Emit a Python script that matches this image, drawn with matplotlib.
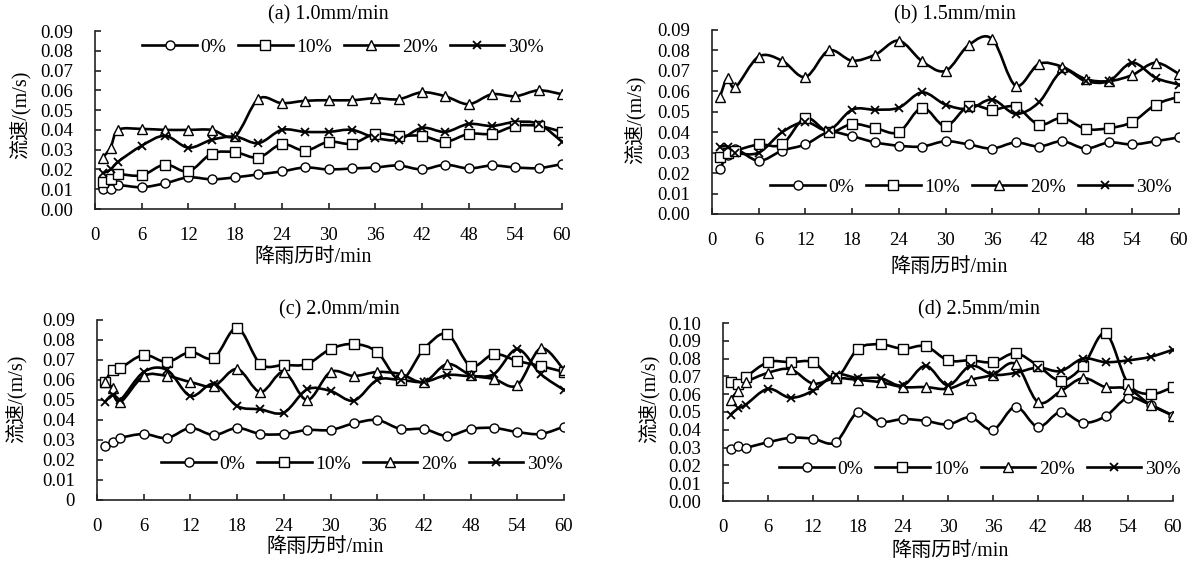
import numpy as np
import matplotlib
matplotlib.use("Agg")
import matplotlib.pyplot as plt
from matplotlib.path import Path
from matplotlib.patches import PathPatch
from matplotlib.lines import Line2D

plt.rcParams['font.family'] = ['Liberation Serif', 'Noto Sans CJK SC']

# rainfall duration (min)
t = [1, 2, 3, 6, 9, 12, 15, 18, 21, 24, 27, 30, 33, 36, 39, 42, 45, 48, 51, 54, 57, 60]
series_names = ['0%', '10%', '20%', '30%']

# (a) 1.0 mm/min
a_0 = [0.010, 0.010, 0.012, 0.011, 0.013, 0.016, 0.015, 0.016, 0.0175, 0.019, 0.021, 0.020,
       0.0205, 0.021, 0.022, 0.020, 0.0224, 0.0205, 0.022, 0.021, 0.0207, 0.0227]
a_10 = [0.0135, 0.015, 0.0175, 0.017, 0.0225, 0.019, 0.028, 0.0287, 0.026, 0.0328, 0.0295, 0.034,
        0.033, 0.038, 0.037, 0.037, 0.034, 0.038, 0.038, 0.042, 0.042, 0.039]
a_20 = [0.026, 0.031, 0.040, 0.0405, 0.040, 0.040, 0.040, 0.037, 0.0557, 0.0535, 0.0547, 0.055,
        0.055, 0.056, 0.0555, 0.059, 0.057, 0.053, 0.058, 0.057, 0.060, 0.058]
a_30 = [0.018, 0.020, 0.024, 0.032, 0.037, 0.031, 0.035, 0.0366, 0.0333, 0.040, 0.039, 0.039,
        0.040, 0.036, 0.035, 0.041, 0.039, 0.043, 0.042, 0.044, 0.043, 0.034]

# (b) 1.5 mm/min
b_0 = [0.022, 0.029, 0.032, 0.026, 0.031, 0.034, 0.040, 0.038, 0.035, 0.0334, 0.033, 0.0356,
       0.034, 0.032, 0.035, 0.033, 0.0356, 0.032, 0.035, 0.034, 0.0356, 0.0375]
b_10 = [0.028, 0.030, 0.031, 0.034, 0.034, 0.047, 0.040, 0.044, 0.042, 0.040, 0.052, 0.043,
        0.053, 0.051, 0.0525, 0.0437, 0.047, 0.0416, 0.042, 0.045, 0.0535, 0.0574]
b_20 = [0.057, 0.0666, 0.062, 0.077, 0.075, 0.067, 0.080, 0.075, 0.078, 0.0848, 0.0747, 0.070,
        0.0827, 0.0856, 0.0628, 0.0734, 0.072, 0.066, 0.065, 0.068, 0.074, 0.0685]
b_30 = [0.033, 0.033, 0.030, 0.030, 0.040, 0.045, 0.041, 0.051, 0.051, 0.052, 0.0595, 0.0535,
        0.0514, 0.056, 0.049, 0.0546, 0.070, 0.065, 0.065, 0.074, 0.0666, 0.0633]

# (c) 2.0 mm/min
c_0 = [0.027, 0.029, 0.031, 0.033, 0.031, 0.036, 0.0325, 0.036, 0.033, 0.033, 0.035, 0.035,
       0.0383, 0.040, 0.0355, 0.0355, 0.032, 0.0355, 0.036, 0.034, 0.033, 0.0367]
c_10 = [0.059, 0.065, 0.066, 0.0725, 0.069, 0.074, 0.071, 0.086, 0.068, 0.0675, 0.068, 0.0755,
        0.078, 0.074, 0.060, 0.0755, 0.083, 0.067, 0.073, 0.0695, 0.067, 0.064]
c_20 = [0.059, 0.056, 0.049, 0.062, 0.062, 0.059, 0.057, 0.0655, 0.054, 0.064, 0.050, 0.064,
        0.062, 0.064, 0.063, 0.059, 0.068, 0.0625, 0.0605, 0.0574, 0.0758, 0.065]
c_30 = [0.049, 0.0525, 0.050, 0.064, 0.065, 0.052, 0.058, 0.047, 0.0453, 0.0437, 0.0553, 0.0545,
        0.0497, 0.060, 0.060, 0.059, 0.0625, 0.062, 0.063, 0.0754, 0.063, 0.055]

# (d) 2.5 mm/min
d_0 = [0.029, 0.031, 0.030, 0.033, 0.0355, 0.035, 0.033, 0.050, 0.0445, 0.046, 0.045, 0.043,
       0.047, 0.040, 0.053, 0.0416, 0.050, 0.044, 0.0476, 0.058, 0.054, 0.048]
d_10 = [0.067, 0.066, 0.0695, 0.078, 0.078, 0.078, 0.069, 0.0855, 0.088, 0.0855, 0.087, 0.079,
        0.079, 0.078, 0.083, 0.076, 0.0676, 0.0757, 0.0943, 0.066, 0.060, 0.064]
d_20 = [0.057, 0.062, 0.0666, 0.072, 0.074, 0.066, 0.069, 0.068, 0.0667, 0.064, 0.064, 0.063,
        0.068, 0.071, 0.077, 0.0555, 0.0616, 0.069, 0.064, 0.063, 0.054, 0.048]
d_30 = [0.0485, 0.052, 0.054, 0.063, 0.058, 0.062, 0.071, 0.069, 0.069, 0.065, 0.076, 0.065,
        0.076, 0.071, 0.072, 0.075, 0.073, 0.080, 0.078, 0.079, 0.081, 0.085]

markers = ['o', 's', '^', 'x']


def smooth_path(x, y):
    # Excel-style smoothed line: cubic bezier through every point
    x = np.asarray(x, float)
    y = np.asarray(y, float)
    n = len(x)
    verts = [(x[0], y[0])]
    codes = [Path.MOVETO]
    for i in range(n - 1):
        i0 = max(i - 1, 0)
        i3 = min(i + 2, n - 1)
        c1 = (x[i] + (x[i + 1] - x[i0]) / 6, y[i] + (y[i + 1] - y[i0]) / 6)
        c2 = (x[i + 1] - (x[i3] - x[i]) / 6, y[i + 1] - (y[i3] - y[i]) / 6)
        verts += [c1, c2, (x[i + 1], y[i + 1])]
        codes += [Path.CURVE4] * 3
    return Path(verts, codes)


def draw_panel(ax, data, ymax, zero_label='0.00'):
    for vals, m in zip(data, markers):
        ax.add_patch(PathPatch(smooth_path(t, vals), fill=False, lw=1.9,
                               edgecolor='black', zorder=2))
        if m == 'x':
            ax.plot(t, vals, ls='none', marker=m, ms=6, mew=1.3, color='black', zorder=3)
        else:
            ax.plot(t, vals, ls='none', marker=m, ms=6.5, mew=1.0, mfc='white',
                    mec='black', zorder=3)
    ax.set_xlim(0, 60)
    ax.set_ylim(0, ymax)
    ax.set_xticks(range(0, 61, 6))
    yt = np.round(np.arange(0, ymax + 1e-9, 0.01), 2)
    ax.set_yticks(yt)
    ax.set_yticklabels([zero_label] + ['%.2f' % v for v in yt[1:]])
    for s in ['top', 'right']:
        ax.spines[s].set_visible(False)
    for s in ['left', 'bottom']:
        ax.spines[s].set_linewidth(1.2)
        ax.spines[s].set_color('#222222')
    ax.tick_params(direction='in', length=4, width=1.2, labelsize=13.5,
                   color='#222222')
    ax.tick_params(axis='y', pad=16)
    ax.tick_params(axis='x', pad=13)


def legend_handles():
    hs = []
    for m in markers:
        if m == 'x':
            hs.append(Line2D([], [], color='black', lw=1.9, marker=m, ms=6, mew=1.3))
        else:
            hs.append(Line2D([], [], color='black', lw=1.9, marker=m, ms=6.5, mew=1.0,
                             mfc='white', mec='black'))
    return hs


fig = plt.figure(figsize=(11.99, 5.66), dpi=100)
W, H = 1199.0, 566.0

panels = [
    # rect px: left, top, right, bottom
    ((95, 31, 562, 209), [a_0, a_10, a_20, a_30], 0.09, '0.00',
     '(a) 1.0mm/min', (328, 15), (343, 47), (313, 258), (21, 115)),
    ((712, 30, 1179, 214), [b_0, b_10, b_20, b_30], 0.09, '0.00',
     '(b) 1.5mm/min', (955, 15), (971, 187), (949, 267), (636, 120)),
    ((97, 320, 564, 500), [c_0, c_10, c_20, c_30], 0.09, '0',
     '(c) 2.0mm/min', (339, 310), (362, 464), (325, 548), (17, 399)),
    ((723, 323, 1173, 501), [d_0, d_10, d_20, d_30], 0.10, '0.00',
     '(d) 2.5mm/min', (979, 310), (980, 469), (950, 552), (650, 399)),
]

for rect, data, ymax, zl, title, tpos, lpos, xlpos, ylpos in panels:
    l, tp, r, b = rect
    ax = fig.add_axes([l / W, 1 - b / H, (r - l) / W, (b - tp) / H])
    draw_panel(ax, data, ymax, zl)
    fig.text(tpos[0] / W, 1 - tpos[1] / H, title, ha='center', va='center', fontsize=14.5)
    fig.text(xlpos[0] / W, 1 - xlpos[1] / H, '降雨历时/min', ha='center', va='center',
             fontsize=14.5)
    fig.text(ylpos[0] / W, 1 - ylpos[1] / H, '流速/(m/s)', ha='center', va='center',
             rotation=90, fontsize=14.5)
    ax.legend(legend_handles(), series_names, loc='center',
              bbox_to_anchor=(lpos[0] / W, 1 - lpos[1] / H), bbox_transform=fig.transFigure,
              ncol=4, frameon=False, fontsize=14, handlelength=2.8, handletextpad=0.2,
              columnspacing=0.6, borderpad=0, borderaxespad=0)

fig.savefig('out.png', dpi=100)
